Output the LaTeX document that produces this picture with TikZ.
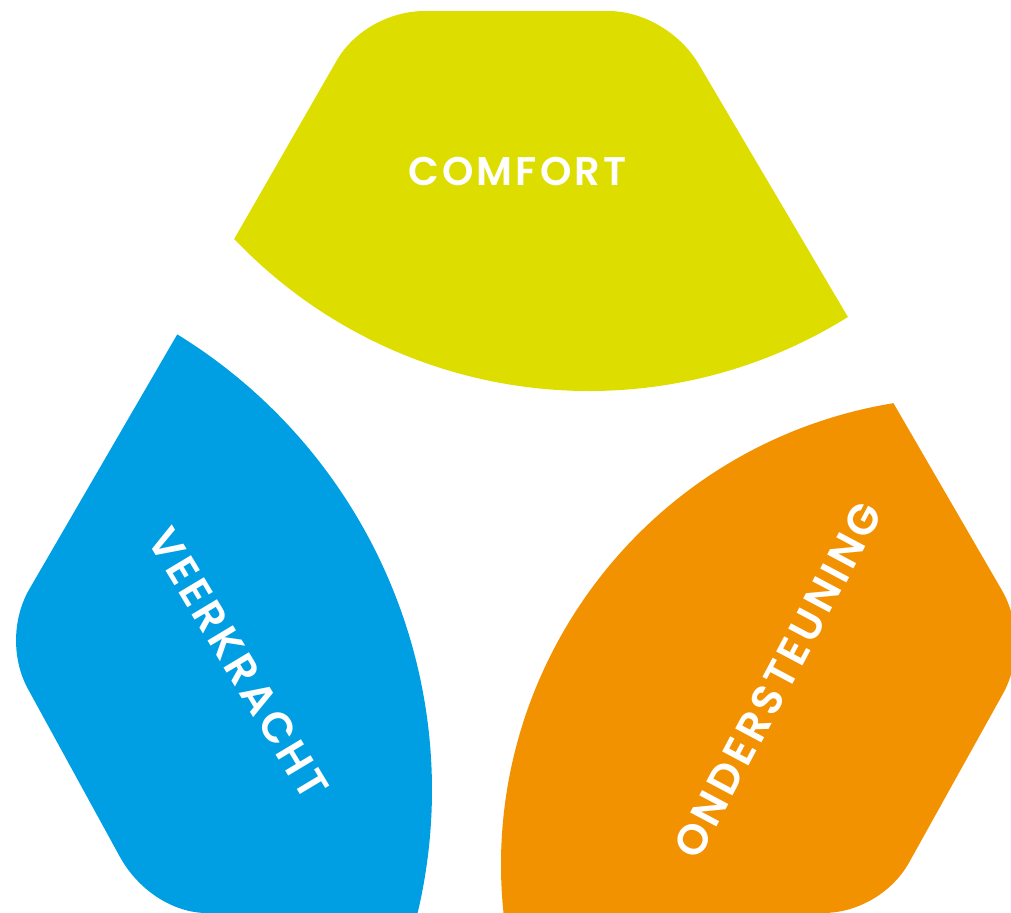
\documentclass[tikz,border=0pt]{standalone}
\usepackage{fontspec}
\newfontfamily\pillarfont{Poppins}[BoldFont={* SemiBold},LetterSpace=8]
\usepackage{tikz}
\definecolor{comfortyellow}{RGB}{222,221,0}
\definecolor{veerblue}{RGB}{0,159,227}
\definecolor{steunorange}{RGB}{243,146,0}

\begin{document}
\begin{tikzpicture}[scale=1,pillarlabel/.style={text=white,inner sep=0pt,font=\pillarfont\bfseries\fontsize{40bp}{40bp}\selectfont},sidelabel/.style={pillarlabel,font=\pillarfont\bfseries\fontsize{42.5bp}{42.5bp}\selectfont}]
\useasboundingbox (0bp,0bp) rectangle (1011bp,-913bp);
\clip (0bp,0bp) rectangle (1011bp,-913bp);
\fill [comfortyellow] (234.2bp,-238.9bp) -- (337bp,-60bp) .. controls (354bp,-31bp) and (389bp,-11bp) .. (425bp,-11bp) -- (608bp,-11bp) .. controls (643bp,-11bp) and (679bp,-32bp) .. (698bp,-63bp) -- (847.9bp,-317bp) arc[start angle=-58.1,end angle=-136.4,radius=490bp] -- cycle;
\fill [veerblue] (177.3bp,-334.3bp) -- (30bp,-588bp) .. controls (12bp,-618bp) and (11.5bp,-659bp) .. (28bp,-689bp) -- (120bp,-857bp) .. controls (138.6bp,-890.6bp) and (173.4bp,-913bp) .. (207bp,-913bp) -- (417.6bp,-913.1bp) arc[start angle=-13.3,end angle=58.4,radius=535bp] -- cycle;
\fill [steunorange] (893.4bp,-403.1bp) -- (1001.7bp,-589.9bp) .. controls (1019.8bp,-621bp) and (1020.2bp,-662.8bp) .. (1002.7bp,-694.2bp) -- (909.2bp,-862.3bp) .. controls (892.3bp,-892.7bp) and (857.8bp,-913bp) .. (823bp,-913bp) -- (503.5bp,-913.1bp) arc[start angle=185.9,end angle=99.3,radius=468bp] -- cycle;
\node (comfort) at (517.5bp,-171bp)[pillarlabel] {COMFORT};
\node (veerkracht) at (238.5bp,-663bp)[sidelabel,rotate=-59] {VEERKRACHT};
\node (ondersteuning) at (778bp,-680bp)[sidelabel,rotate=62] {ONDERSTEUNING};
\end{tikzpicture}
\end{document}
